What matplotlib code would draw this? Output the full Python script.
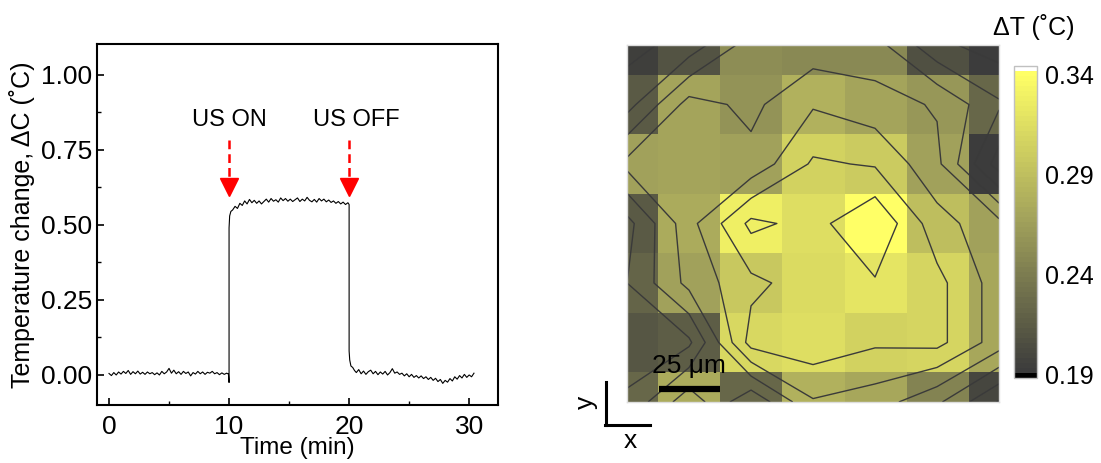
import numpy as np
import matplotlib
matplotlib.use('Agg')
import matplotlib.pyplot as plt
from matplotlib.colors import LinearSegmentedColormap, ListedColormap, Normalize
from matplotlib.lines import Line2D

plt.rcParams['font.family'] = ['Liberation Sans', 'DejaVu Sans']
plt.rcParams['font.size'] = 17

# temperature trace
t_base = np.arange(0, 10, 0.2)
y_base = [0.005, -0.002, 0.008, 0.000, 0.010, 0.003, 0.012, 0.005, 0.015, 0.002,
          0.011, 0.004, 0.013, 0.003, 0.009, 0.002, 0.010, 0.004, 0.008, 0.001,
          0.007, 0.000, 0.012, 0.004, 0.010, 0.022, 0.006, 0.016, 0.004, 0.011,
          0.002, 0.012, 0.005, 0.010, -0.003, 0.008, 0.003, 0.012, 0.004, 0.010,
          0.002, 0.009, 0.006, 0.012, 0.004, 0.008, 0.001, 0.007, 0.002, 0.006]
t_rise = [9.95, 10.0, 10.0, 10.05, 10.15, 10.3, 10.5, 10.7, 10.9]
y_rise = [0.003, -0.025, 0.49, 0.53, 0.545, 0.55, 0.562, 0.555, 0.572]
t_plat = np.arange(11.1, 20.0, 0.2)
y_plat = [0.565, 0.580, 0.570, 0.585, 0.574, 0.582, 0.572, 0.580, 0.570, 0.578,
          0.586, 0.576, 0.588, 0.579, 0.584, 0.576, 0.590, 0.581, 0.588, 0.579,
          0.586, 0.578, 0.584, 0.590, 0.578, 0.586, 0.580, 0.592, 0.582, 0.577,
          0.585, 0.576, 0.588, 0.580, 0.586, 0.577, 0.583, 0.575, 0.580, 0.572,
          0.578, 0.570, 0.576, 0.568, 0.574]
t_fall = [20.0, 20.0, 20.05, 20.15, 20.3, 20.45]
y_fall = [0.568, 0.08, 0.05, 0.03, 0.025, 0.015]
t_after = np.arange(20.6, 30.55, 0.2)
y_after = [0.008, 0.018, 0.004, 0.013, 0.002, 0.011, 0.016, 0.004, 0.012, 0.001,
           0.010, 0.003, 0.012, 0.000, 0.008, 0.021, 0.006, 0.010, 0.002, 0.006,
           -0.003, 0.004, -0.006, 0.002, -0.008, -0.002, -0.010, -0.003, -0.012, -0.006,
           -0.015, -0.008, -0.018, -0.011, -0.022, -0.015, -0.028, -0.018, -0.024, -0.012,
           -0.020, -0.006, -0.014, -0.002, -0.010, 0.002, -0.008, 0.000, -0.006, 0.006]

# temperature map, 7x7 points (25 um spacing)
dT_map = [
    [0.195, 0.210, 0.252, 0.250, 0.250, 0.207, 0.192],
    [0.214, 0.270, 0.257, 0.280, 0.270, 0.260, 0.225],
    [0.268, 0.270, 0.268, 0.305, 0.300, 0.267, 0.192],
    [0.215, 0.275, 0.327, 0.315, 0.340, 0.290, 0.268],
    [0.222, 0.268, 0.297, 0.312, 0.320, 0.308, 0.272],
    [0.212, 0.218, 0.310, 0.315, 0.305, 0.308, 0.272],
    [0.225, 0.275, 0.225, 0.280, 0.272, 0.246, 0.200],
]
cbar_ticks = [0.19, 0.24, 0.29, 0.34]
contour_levels = [0.202, 0.222, 0.242, 0.262, 0.282, 0.302, 0.322]

t = np.concatenate([t_base, t_rise, t_plat, t_fall, t_after])
y = np.concatenate([y_base, y_rise, y_plat, y_fall, y_after])

fig = plt.figure(figsize=(11.01, 4.63), dpi=100)

# ---- left: temperature vs time
ax = fig.add_axes([0.0881, 0.1253, 0.3642, 0.7797])
ax.plot(t, y, color='black', lw=0.8)
ax.set_xlim(-1, 32.4)
ax.set_ylim(-0.1, 1.103)
ax.set_xticks([0, 10, 20, 30])
ax.set_xticks([5, 15, 25], minor=True)
ax.set_yticks([0.0, 0.25, 0.5, 0.75, 1.0])
ax.set_yticks([0.125, 0.375, 0.625, 0.875], minor=True)
ax.set_yticklabels(['0.00', '0.25', '0.50', '0.75', '1.00'])
ax.tick_params(direction='in', length=5, width=1.2, labelsize=19)
ax.tick_params(axis='x', pad=7)
ax.tick_params(which='minor', direction='in', length=3, width=1)
for s in ax.spines.values():
    s.set_linewidth(1.5)
ax.set_xlabel('Time (min)', fontsize=17.5, labelpad=-1)
ax.set_ylabel('Temperature change, ΔC (˚C)', fontsize=18, labelpad=4)

for xa, lab in [(10, 'US ON'), (20, 'US OFF')]:
    ax.plot([xa, xa], [0.783, 0.655], ls='--', color='red', lw=1.8, dashes=(3.5, 2))
    ax.plot(xa, 0.625, marker='v', color='red', markersize=13, mec='red')
    ax.text(xa + (0.6 if lab == 'US OFF' else 0), 0.85, lab, ha='center', va='center')

# ---- right: temperature map
cmap_base = LinearSegmentedColormap.from_list(
    'olive', ['#3c3c3c', '#a0a05b', '#ffff66'])
n_col = 62
cols = [cmap_base(i / (n_col - 3)) for i in range(n_col - 2)]
cmap = ListedColormap(['#000000'] + cols + ['#ffffff'])
norm = Normalize(vmin=0.1885, vmax=0.3445)

axm = fig.add_axes([0.5695, 0.1318, 0.3379, 0.771])
data = np.array(dT_map)
im = axm.imshow(data, cmap=cmap, norm=norm, extent=(-0.5, 6.5, 6.5, -0.5),
                interpolation='nearest', aspect='auto')
xs = np.arange(data.shape[1])
ys = np.arange(data.shape[0])
axm.contour(xs, ys, data, levels=contour_levels, colors='#3a3a3a', linewidths=1.0)
axm.set_xlim(0, 6)
axm.set_ylim(6, 0)
axm.set_xticks([])
axm.set_yticks([])
for s in axm.spines.values():
    s.set_color('#dddddd')
    s.set_linewidth(1)

# scale bar
axm.plot([0.52, 1.5], [5.78, 5.78], color='black', lw=4.5, solid_capstyle='butt')
axm.text(1.0, 5.4, '25 μm', ha='center', va='center', fontsize=19)

# colorbar
cax = fig.add_axes([0.921, 0.1836, 0.0209, 0.6739])
cb = fig.colorbar(im, cax=cax, ticks=cbar_ticks)
cb.ax.set_yticklabels(['0.19', '0.24', '0.29', '0.34'])
cb.ax.tick_params(length=0, pad=6, labelsize=18)
cb.outline.set_edgecolor('#c0c0c0')
cb.outline.set_linewidth(1)
fig.text(1034 / 1101, 1 - 27 / 463, 'ΔT (˚C)', ha='center', va='center', fontsize=18)

# x/y orientation marker
fig.add_artist(Line2D([606 / 1101, 606 / 1101], [1 - 382 / 463, 1 - 425 / 463],
                      color='black', lw=2.2))
fig.add_artist(Line2D([605 / 1101, 650 / 1101], [1 - 425 / 463, 1 - 425 / 463],
                      color='black', lw=2.2))
fig.text(586 / 1101, 1 - 402 / 463, 'y', rotation=90, ha='center', va='center', fontsize=19)
fig.text(630 / 1101, 1 - 441 / 463, 'x', ha='center', va='center', fontsize=19)

fig.savefig('out.png', dpi=100)
